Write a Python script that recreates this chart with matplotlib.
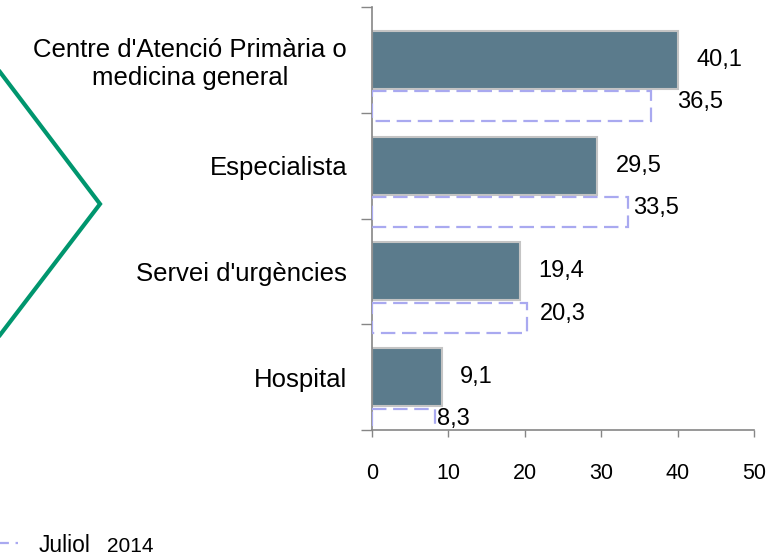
import matplotlib
matplotlib.use("Agg")
import matplotlib.pyplot as plt
from matplotlib.lines import Line2D
import numpy as np

plt.rcParams['font.family'] = ['Liberation Sans', 'DejaVu Sans']

# data
categories = ["Centre d'Atenció Primària o\nmedicina general", "Especialista",
              "Servei d'urgències", "Hospital"]
solid_vals = [40.1, 29.5, 19.4, 9.1]
dashed_vals = [36.5, 33.5, 20.3, 8.3]
solid_labels = ["40,1", "29,5", "19,4", "9,1"]
dashed_labels = ["36,5", "33,5", "20,3", "8,3"]
x_ticks = [0, 10, 20, 30, 40, 50]
legend_name = "Juliol"
legend_year = "2014"

W, H = 778, 557
fig = plt.figure(figsize=(W / 100, H / 100), dpi=100)
ax = fig.add_axes([372 / W, 1 - 430 / H, (754 - 372) / W, (430 - 7) / H])

y = np.arange(len(categories))
solid_color = "#5b7b8c"
dash_color = "#a9a9f0"
axis_color = "#868686"

ax.barh(y, solid_vals, height=0.547, color=solid_color, edgecolor="#c4c4c4",
        linewidth=1.5, zorder=2)
ax.barh(y + 0.44, dashed_vals, height=0.283, fill=False, edgecolor=dash_color,
        linewidth=1.6, linestyle=(0, (6.5, 3)), zorder=3)

# value labels
for yi, v, lab in zip(y, solid_vals, solid_labels):
    ax.annotate(lab, (v, yi), xytext=(13, 0), textcoords="offset points",
                va="center", ha="left", fontsize=17)
dash_nudge = [19, 4, 9, 1]
for yi, v, lab, nd in zip(y, dashed_vals, dashed_labels, dash_nudge):
    ax.annotate(lab, (v, yi + 0.40), xytext=(nd, 0), textcoords="offset points",
                va="center", ha="left", fontsize=17)

ax.set_xlim(0, 50)
ax.set_ylim(3.5, -0.5)
ax.set_xticks(x_ticks)
ax.set_xticklabels([str(t) for t in x_ticks], fontsize=15.5)
ax.tick_params(axis="x", length=5, width=1, color=axis_color, pad=19, direction="out")

ax.set_yticks(np.arange(-0.5, len(categories), 1.0))
ax.set_yticklabels([])
ax.tick_params(axis="y", which="major", length=8, width=1, color=axis_color, direction="out")
ax.set_yticks(y, categories, minor=True)
ax.tick_params(axis="y", which="minor", length=0, pad=18, labelsize=18.5)
for t in ax.get_yticklabels(minor=True):
    t.set_multialignment("center")

for s in ["top", "right"]:
    ax.spines[s].set_visible(False)
for s in ["left", "bottom"]:
    ax.spines[s].set_color(axis_color)
    ax.spines[s].set_linewidth(1.2)

# green chevron on the left
fig.add_artist(Line2D([0 / W, 100 / W, 0 / W], [1 - 72 / H, 1 - 204 / H, 1 - 335 / H],
                      color="#00966e", linewidth=3, solid_joinstyle="miter"))

# legend fragment
fig.add_artist(Line2D([0 / W, 18 / W], [1 - 543 / H, 1 - 543 / H], color=dash_color,
                      linewidth=1.6, linestyle=(0, (4, 3))))
fig.text(39 / W, 1 - 545 / H, legend_name, fontsize=16.5, va="center", ha="left")
fig.text(107 / W, 1 - 546 / H, legend_year, fontsize=15, va="center", ha="left")

fig.savefig("out.png", dpi=100)
